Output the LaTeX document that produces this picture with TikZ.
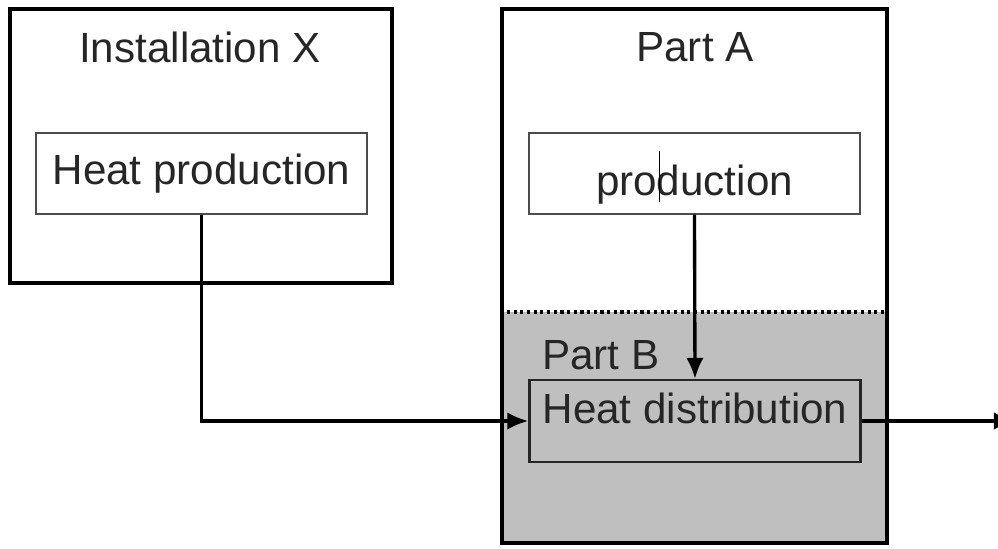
\documentclass[tikz,border=0pt]{standalone}
\usepackage{fontspec}
\setmainfont{Liberation Sans}
\usetikzlibrary{arrows.meta}
\usetikzlibrary{positioning}
\tikzset{>={Latex[length=12pt,width=10pt]}}
\tikzstyle{outer} = [rectangle, draw=black, line width=2pt, inner sep=0]
\tikzstyle{inner} = [rectangle, draw=black!70, line width=0.8pt, minimum width=6.62cm, minimum height=1.62cm, font=\fontsize{24}{28}\selectfont, text=black!85]
\tikzstyle{lbl} = [draw=none, font=\fontsize{24}{28}\selectfont, text=black!85]
\tikzstyle{flow} = [->, line width=1.9pt]

\begin{document}
\begin{tikzpicture}
\useasboundingbox (0,0) rectangle (19.96,-10.96);
%\node [draw=none] at (10,0) {};
\fill [black!25] (10.04,-6.24) rectangle (17.74,-10.86);
\node [outer, minimum width=7.64cm, minimum height=5.48cm] (X) at (4.02,-2.92) {};
\node [outer, minimum width=7.7cm, minimum height=10.68cm] (part) at (13.89,-5.52) {};
\coordinate (split) at (0,-6.24);
\draw [dotted, line width=1.8pt] (part.west |- split) -- (part.east |- split);
\node [lbl] (instlbl) at (4.0,-0.94) {Installation X};
\node [lbl] (albl) at (13.9,-0.94) {Part A};
\node [lbl, anchor=west] (blbl) at (10.72,-7.1) {Part B};
\node [inner] (heat) at (4.03,-3.47) {Heat production};
\node [inner, text height=1.0cm, text depth=0.12cm] (prod) at (13.89,-3.47) {production};
\node [inner, minimum height=1.64cm, text height=0.6cm, text depth=0.52cm, fill=black!25, draw=black!85, line width=1.3pt] (dist) at (13.9,-8.42) {Heat distribution};
\draw [line width=0.5pt] (13.18,-3.02) -- (13.18,-4.04);
\coordinate (out) at (20.3,-8.42);
\draw [flow] (heat.south) |- (dist.west);
\draw [flow] (prod.south) -- (dist.north);
\draw [flow] (dist.east) -- (out);
\end{tikzpicture}
\end{document}
